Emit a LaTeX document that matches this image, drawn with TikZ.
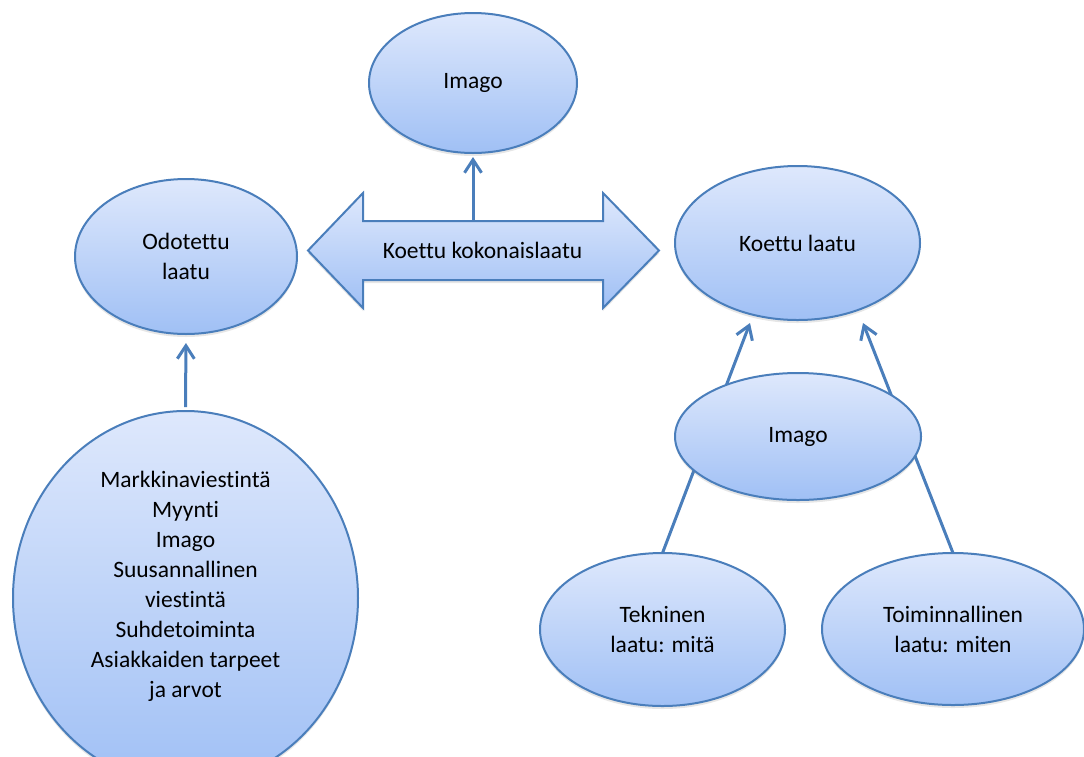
\documentclass[tikz,border=0pt]{standalone}
\usepackage{fontspec}
\setmainfont{Carlito}[Ligatures=NoCommon]
\usepackage{xcolor}
\usepackage{tikz}
\usetikzlibrary{positioning,arrows.meta,shapes.geometric,shadows}

\definecolor{rimblue}{HTML}{4A7EBB}
\definecolor{filltop}{HTML}{DEE8FC}
\definecolor{fillbottom}{HTML}{A0C0F5}

\begin{document}
\begin{tikzpicture}[x=1pt,y=-1pt,
  bubble/.style={ellipse,draw=rimblue,line width=2pt,top color=filltop,bottom color=fillbottom,
    inner sep=0pt,outer sep=0pt,align=center,font=\fontsize{23.5}{30}\selectfont,
    drop shadow={opacity=0.2,shadow xshift=0pt,shadow yshift=-3pt}},
  bigarrow/.style={draw=rimblue,line width=2pt,top color=filltop,bottom color=fillbottom,line join=miter,
    drop shadow={opacity=0.2,shadow xshift=0pt,shadow yshift=-3pt}},
  txt/.style={align=center,font=\fontsize{23.5}{30}\selectfont},
  link/.style={draw=rimblue,line width=3pt,-{Straight Barb[length=13pt,width=17pt]}}]
\useasboundingbox (0,0) rectangle (1084,756);

% Upper ellipses
\node[bubble,minimum width=208pt,minimum height=140pt] (imagotop) at (473,83) {Imago};
\node[bubble,minimum width=222pt,minimum height=155pt] (odotettu) at (186,256.5) {Odotettu\\laatu};
\node[bubble,minimum width=245pt,minimum height=154pt] (koettu) at (797.5,243) {Koettu laatu};

% Double arrow
\filldraw[bigarrow] (308,250.5) -- (363,193) -- (363,221) -- (603,221) -- (603,193) -- (659,250.5)
  -- (603,308) -- (603,280) -- (363,280) -- (363,308) -- cycle;
\node[txt] (kokonais) at (482.5,250.5) {Koettu kokonaislaatu};
\coordinate (shafttop) at (473,221);
\draw[link,shorten >=4pt] (shafttop) -- (imagotop.south);

% Left column
\node[bubble,minimum width=345pt,minimum height=374pt] (lahteet) at (185.5,598) {};
\node[txt] (lahteetteksti) at (185.5,586) {Markkinaviestintä\\Myynti\\Imago\\Suusannallinen\\viestintä\\Suhdetoiminta\\Asiakkaiden tarpeet\\ja arvot};
\draw[link,shorten <=4pt,shorten >=9pt] (lahteet.north) -- (odotettu.south);

% Lower right ellipses
\node[bubble,minimum width=245pt,minimum height=153pt] (tekninen) at (662.5,629.5) {Tekninen\\laatu: mitä};
\node[bubble,minimum width=262pt,minimum height=152pt] (toiminnallinen) at (953,629) {Toiminnallinen\\laatu: miten};
\coordinate (tipleft) at (750,323);
\coordinate (tipright) at (863,323);
\draw[link] (tekninen.north) -- (tipleft);
\draw[link] (toiminnallinen.north) -- (tipright);

% Middle ellipse over the lines
\node[bubble,minimum width=246pt,minimum height=127pt] (imagomid) at (798,436.5) {Imago};
\end{tikzpicture}
\end{document}
